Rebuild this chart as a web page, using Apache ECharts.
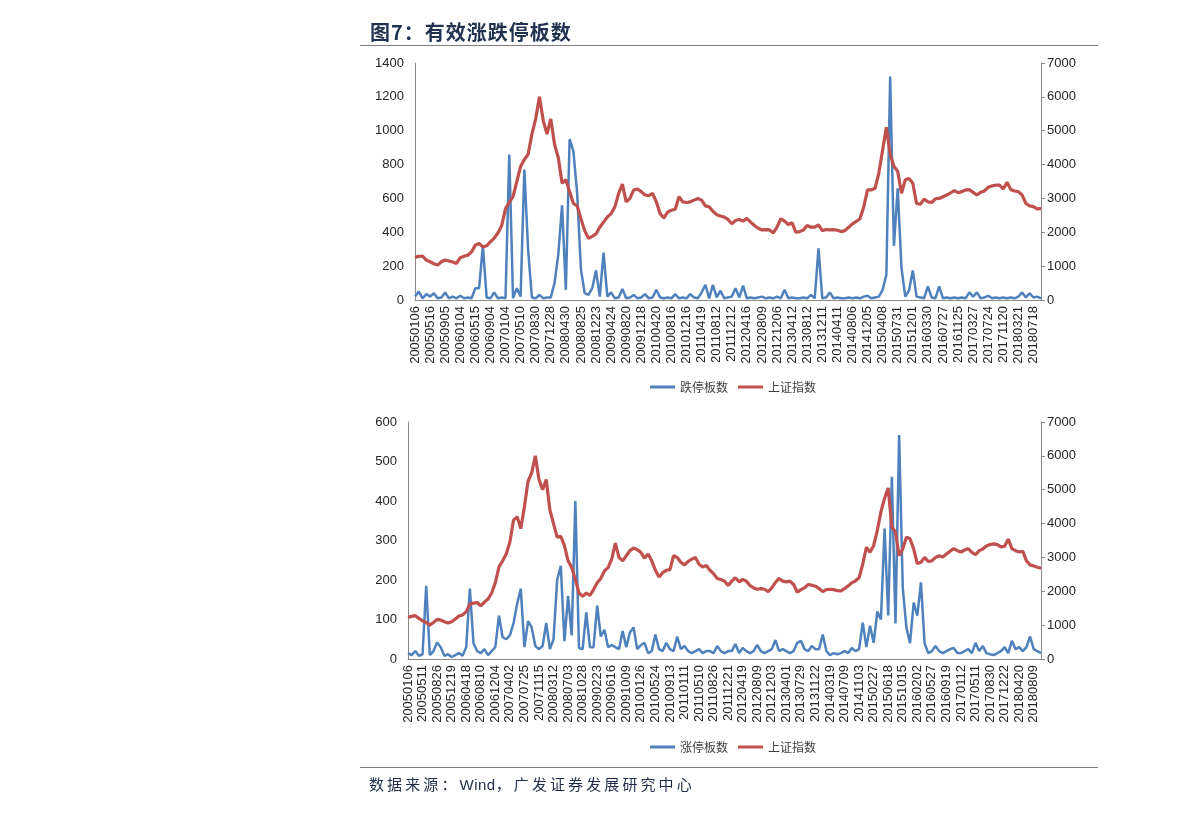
<!DOCTYPE html>
<html>
<head>
<meta charset="utf-8">
<script src="https://cdn.jsdelivr.net/npm/echarts@6/dist/echarts.min.js"></script>
<style>
  html, body { margin: 0; padding: 0; background: #ffffff; }
  #wrap { position: relative; width: 1191px; height: 814px; overflow: hidden; }
  #chart { position: absolute; left: 0; top: 0; width: 1191px; height: 814px; }
  .title { position: absolute; left: 370px; top: 17px; font: bold 20px "Noto Sans CJK SC", sans-serif; letter-spacing: 1px; color: #1f3350; white-space: nowrap; }
  .source { position: absolute; left: 369px; top: 773px; font: 15px "Noto Sans CJK SC", sans-serif; letter-spacing: 3.1px; color: #1f2d4a; white-space: nowrap; }
  .source .lat { font-family: "Liberation Sans", Arial, sans-serif; letter-spacing: 0.5px; }
  .rule { position: absolute; left: 360px; width: 738px; height: 0; border-top: 1.5px solid #7f7f7f; }
</style>
</head>
<body>
<div id="wrap">
  <div id="chart"></div>
  <div class="title">图7：有效涨跌停板数</div>
  <div class="rule" style="top:45px"></div>
  <div class="rule" style="top:767px"></div>
  <div class="source">数据来源：<span class="lat">Wind</span>，广发证券发展研究中心</div>
</div>
<script>
// ---------------- data ----------------
const topTickLabels = ['20050106','20050516','20050905','20060104','20060515','20060904','20070104','20070510','20070830','20071228','20080430','20080825','20081223','20090424','20090820','20091218','20100420','20100816','20101216','20110419','20110812','20111212','20120416','20120809','20121206','20130412','20130812','20131211','20140411','20140806','20141205','20150408','20150731','20151201','20160330','20160727','20161125','20170327','20170724','20171120','20180321','20180718'];
const botTickLabels = ['20050106','20050511','20050826','20051219','20060418','20060810','20061204','20070402','20070725','20071115','20080312','20080703','20081028','20090223','20090616','20091009','20100126','20100524','20100913','20110111','20110510','20110826','20111221','20120419','20120809','20121203','20130401','20130729','20131122','20140319','20140709','20141103','20150227','20150618','20151015','20160202','20160527','20160919','20170112','20170511','20170830','20171222','20180420','20180809'];

// 跌停板数 (top, left axis)
const limitDown = [20,50,10,35,20,40,10,15,45,10, 20,10,25,10,15,10,70,70,320,15, 10,45,10,15,10,860,10,70,20,770, 295,15,10,30,10,15,15,100,270,560, 60,950,880,630,180,40,30,70,175,20, 280,20,45,10,15,65,10,15,30,10, 15,35,10,15,60,15,10,15,10,35, 10,15,10,35,15,10,45,90,10,90, 15,55,10,15,20,70,15,85,10,15, 10,15,20,10,15,10,20,10,60,10, 15,10,10,15,10,30,10,305,10,15, 45,10,15,10,10,15,10,15,10,20, 25,10,15,20,60,150,1320,320,660,190, 20,55,175,20,15,10,80,15,10,80, 10,15,10,15,10,15,10,45,20,45, 10,15,25,10,15,10,15,10,15,10, 20,45,15,40,15,20,10];
// 上证指数 (top, right axis)
const sseTop = [1260,1290,1300,1180,1130,1070,1035,1130,1180,1150, 1120,1080,1250,1290,1320,1420,1620,1670,1570,1600, 1720,1830,1980,2200,2700,2880,3050,3500,3940,4150, 4300,4900,5350,6000,5300,4900,5350,4600,4200,3450, 3550,3200,2850,2780,2400,2050,1820,1880,1950,2150, 2300,2450,2550,2750,3150,3420,2900,3000,3250,3280, 3200,3100,3080,3150,2900,2550,2420,2600,2650,2680, 3050,2900,2880,2900,2950,3000,2950,2780,2750,2620, 2520,2480,2450,2380,2250,2350,2380,2330,2410,2300, 2200,2120,2070,2080,2070,1980,2150,2400,2330,2230, 2280,2000,2020,2070,2200,2150,2150,2220,2050,2080, 2070,2080,2060,2020,2050,2150,2250,2320,2400,2750, 3250,3250,3300,3750,4430,5100,4300,3950,3800,3150, 3550,3590,3450,2850,2830,2980,2900,2880,2990,3000, 3050,3100,3160,3230,3170,3200,3250,3260,3180,3100, 3180,3220,3330,3370,3390,3390,3280,3480,3260,3220, 3200,3100,2850,2780,2760,2690,2700];

// 涨停板数 (bottom, left axis)
const limitUp = [15,10,20,8,12,185,10,20,42,30, 8,12,5,10,15,8,30,178,40,20, 15,25,10,20,30,110,55,50,60,90, 140,178,30,96,80,33,25,33,91,25, 50,200,236,45,160,60,400,28,25,118, 30,30,135,57,74,30,35,30,25,71, 30,67,80,25,35,41,15,20,62,25, 20,41,25,20,57,25,33,20,15,20, 25,15,20,20,15,33,20,15,20,20, 38,15,28,20,15,20,36,20,15,20, 25,48,20,25,20,15,20,41,46,25, 20,33,25,25,62,20,10,15,12,15, 20,15,28,20,25,92,30,84,41,120, 100,330,110,461,90,567,180,80,40,143, 110,194,40,15,20,33,20,15,20,25, 28,15,15,20,25,15,41,20,33,15, 12,10,15,20,30,15,46,25,30,20, 30,57,25,20,15];
// 上证指数 (bottom, right axis)
const sseBot = [1230,1260,1280,1200,1130,1080,1000,1080,1170,1150, 1100,1060,1100,1180,1270,1300,1400,1620,1650,1670, 1570,1680,1770,1950,2250,2720,2900,3100,3450,4100, 4200,3850,4500,5250,5500,6000,5300,5000,5300,4400, 4000,3600,3620,3350,2900,2700,2350,1950,1850,1950, 1880,2050,2250,2380,2600,2700,2950,3420,3000,2900, 3050,3200,3280,3230,3150,2980,3100,2900,2620,2420, 2550,2620,2640,3050,3000,2860,2780,2880,2950,3000, 2800,2720,2760,2620,2520,2380,2350,2300,2170,2300, 2400,2280,2350,2300,2170,2100,2060,2080,2060,1990, 2100,2260,2380,2300,2280,2300,2200,1970,2050,2100, 2200,2180,2150,2080,1990,2050,2060,2050,2020,2010, 2080,2160,2250,2310,2400,2800,3300,3150,3350,3800, 4350,4750,5050,3900,3750,3050,3250,3600,3550,3250, 2820,2860,3000,2880,2900,3000,3050,3010,3100,3180, 3260,3200,3160,3220,3260,3150,3080,3200,3250,3340, 3380,3400,3380,3310,3330,3540,3260,3200,3160,3180, 2900,2780,2750,2710,2680];

const labelEvery = 4;
function buildCategories(tickLabels, n) {
  const out = [];
  for (let i = 0; i < n; i++) out.push(i % labelEvery === 0 && tickLabels[i / labelEvery] ? tickLabels[i / labelEvery] : '');
  return out;
}
const topCategories = buildCategories(topTickLabels, sseTop.length);
const botCategories = buildCategories(botTickLabels, sseBot.length);

// ---------------- chart ----------------
const BLUE = '#4f81bd', RED = '#c0504d', AX = '#898989', TXT = '#262626';
const numFont = 'Liberation Sans, Arial, sans-serif';
const cjkFont = 'Noto Sans CJK SC, sans-serif';

function xAxisCfg(gridIndex, data) {
  return {
    type: 'category', gridIndex, data, boundaryGap: false,
    axisLine: { show: true, lineStyle: { color: AX, width: 1 } },
    axisTick: { show: false },
    splitLine: { show: false },
    axisLabel: { interval: labelEvery - 1, rotate: 90, margin: 6, fontSize: 13, color: TXT, fontFamily: numFont }
  };
}
function yAxisCfg(gridIndex, max, interval, pos) {
  return {
    type: 'value', gridIndex, min: 0, max, interval, position: pos,
    axisLine: { show: true, lineStyle: { color: AX, width: 1 } },
    axisTick: { show: pos === 'right', length: 4, lineStyle: { color: AX } },
    splitLine: { show: false },
    axisLabel: { margin: pos === 'right' ? 6 : 11, fontSize: 13, color: TXT, fontFamily: numFont, formatter: v => String(v) }
  };
}
function legendCfg(top, names) {
  return {
    top, left: 645, orient: 'horizontal', icon: 'rect', itemWidth: 25, itemHeight: 3, itemGap: 10,
    selectedMode: false,
    textStyle: { fontSize: 12, color: '#404040', fontFamily: cjkFont },
    data: names
  };
}

const chart = echarts.init(document.getElementById('chart'), null, { renderer: 'canvas' });
chart.setOption({
  animation: false,
  backgroundColor: '#ffffff',
  textStyle: { fontFamily: cjkFont },
  grid: [
    { left: 415, right: 150, top: 63, height: 237 },
    { left: 408, right: 150, top: 422, height: 237 }
  ],
  legend: [
    legendCfg(376, ['跌停板数', '上证指数']),
    legendCfg(736, ['涨停板数', '上证指数'])
  ],
  xAxis: [xAxisCfg(0, topCategories), xAxisCfg(1, botCategories)],
  yAxis: [
    yAxisCfg(0, 1400, 200, 'left'),
    yAxisCfg(0, 7000, 1000, 'right'),
    yAxisCfg(1, 600, 100, 'left'),
    yAxisCfg(1, 7000, 1000, 'right')
  ],
  series: [
    { name: '跌停板数', type: 'line', xAxisIndex: 0, yAxisIndex: 0, data: limitDown, showSymbol: false, symbol: 'none', lineStyle: { color: BLUE, width: 2.5 }, itemStyle: { color: BLUE } },
    { name: '上证指数', type: 'line', xAxisIndex: 0, yAxisIndex: 1, data: sseTop, showSymbol: false, symbol: 'none', lineStyle: { color: RED, width: 3.2 }, itemStyle: { color: RED } },
    { name: '涨停板数', type: 'line', xAxisIndex: 1, yAxisIndex: 2, data: limitUp, showSymbol: false, symbol: 'none', lineStyle: { color: BLUE, width: 2.5 }, itemStyle: { color: BLUE } },
    { name: '上证指数', type: 'line', xAxisIndex: 1, yAxisIndex: 3, data: sseBot, showSymbol: false, symbol: 'none', lineStyle: { color: RED, width: 3.2 }, itemStyle: { color: RED } }
  ]
});
</script>
</body>
</html>
